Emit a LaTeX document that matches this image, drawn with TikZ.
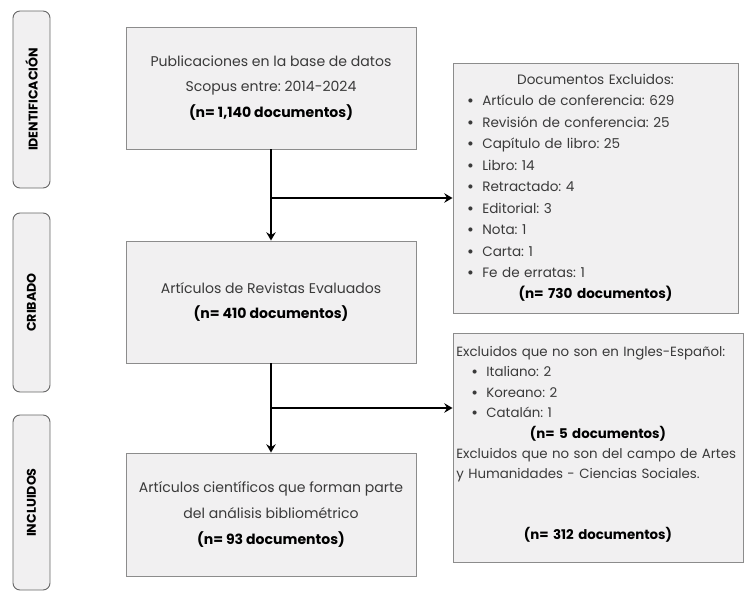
\documentclass[tikz,border=0pt]{standalone}
\usepackage{fontspec}
\setmainfont{Poppins}
\usetikzlibrary{arrows.meta}
\definecolor{boxfill}{HTML}{F1F0F1}
\definecolor{boxline}{HTML}{8C8C8C}
\definecolor{txtgray}{HTML}{3A3A3A}
\newcommand{\midline}[1]{\makebox[\hsize]{#1}}
\newcommand{\ndocs}[1]{\textbf{\color{black}(n= #1 documentos)}}
\newcommand{\itm}{\hspace*{0.2cm}{\bfseries\textbullet}\hspace{0.25cm}}
\frenchspacing

\begin{document}
\begin{tikzpicture}[
		x=0.03cm, y=-0.03cm,
		every node/.style={rectangle, fill=boxfill, draw=boxline, line width=0.8pt, text=txtgray, font=\fontsize{12}{22}\selectfont},
		stage/.style={rounded corners=6pt, draw=black!60, minimum height=1.11cm, font=\fontsize{10.8}{12}\selectfont\bfseries, text=black},
		flow/.style={line width=2pt, -{Stealth[length=7pt, width=8pt]}}
	]
  \useasboundingbox (0,0) rectangle (749,596);
  \node (ident) [stage, minimum width=5.31cm, rotate=90] at (31.5, 99.5) {IDENTIFICACIÓN};
  \node (crib) [stage, minimum width=5.37cm, rotate=90] at (31.5, 302.5) {CRIBADO};
  \node (incl) [stage, minimum width=5.25cm, rotate=90] at (31.5, 502.5) {INCLUIDOS};
  \node (pub) [minimum width=8.7cm, minimum height=3.66cm, align=center] at (271, 88) {Publicaciones en la base de datos\\Scopus entre: 2014-2024\\\ndocs{1,140}};
  \node (rev) [minimum width=8.7cm, minimum height=3.66cm, align=center] at (271, 302) {Artículos de Revistas Evaluados\\\ndocs{410}};
  \node (fin) [minimum width=8.7cm, minimum height=3.69cm, align=center] at (271, 514.5) {Artículos científicos que forman parte\\del análisis bibliométrico\\\ndocs{93}};
  \node (exc1) [minimum width=8.55cm, minimum height=7.5cm, text width=8.1cm, align=left, font=\fontsize{11.6}{18.3}\selectfont] at (595.5, 188) {\midline{Documentos Excluidos:}\\\itm Artículo de conferencia: 629\\\itm Revisión de conferencia: 25\\\itm Capítulo de libro: 25\\\itm Libro: 14\\\itm Retractado: 4\\\itm Editorial: 3\\\itm Nota: 1\\\itm Carta: 1\\\itm Fe de erratas: 1\\\midline{\ndocs{730}}};
  \node (exc2) [minimum width=8.7cm, minimum height=6.87cm, text width=8.5cm, inner xsep=0.1cm, align=left, font=\fontsize{11.4}{17.4}\selectfont] at (598, 447.5) {Excluidos que no son en Ingles-Español:\\\hspace*{0.25cm}\itm Italiano: 2\\\hspace*{0.25cm}\itm Koreano: 2\\\hspace*{0.25cm}\itm Catalán: 1\\\midline{\ndocs{5}}\\Excluidos que no son del campo de Artes\\y Humanidades - Ciencias Sociales.\\[2\baselineskip]\midline{\ndocs{312}}\\[-0.35cm]\mbox{}};
  \coordinate (fork1) at (271, 198);
  \coordinate (fork2) at (271, 408);
  \draw [flow] (pub) -- (rev);
  \draw [flow] (rev) -- (fin);
  \draw [flow] (fork1) -- (fork1 -| exc1.west);
  \draw [flow] (fork2) -- (fork2 -| exc2.west);
\end{tikzpicture}
\end{document}
